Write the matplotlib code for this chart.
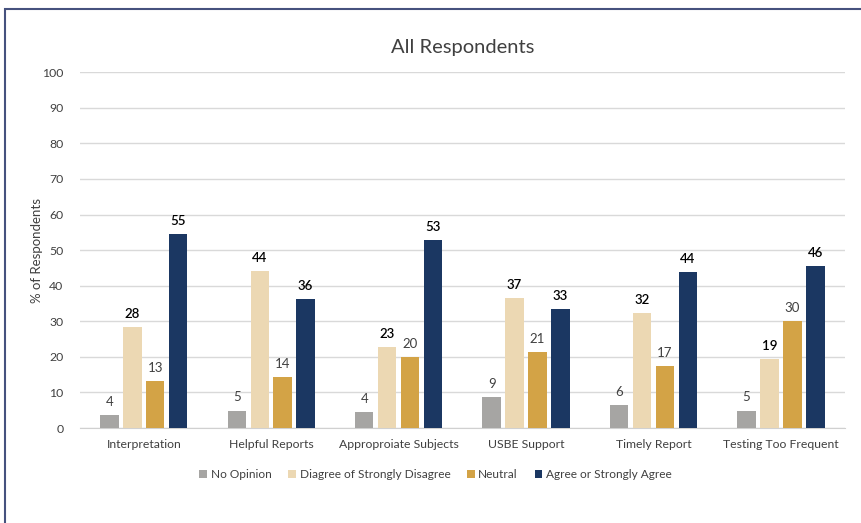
import matplotlib
matplotlib.use("Agg")
import matplotlib.pyplot as plt
import matplotlib.patches as mpatches
import numpy as np

plt.rcParams['font.family'] = ['Lato', 'DejaVu Sans']

categories = ["Interpretation", "Helpful Reports", "Approproiate Subjects",
              "USBE Support", "Timely Report", "Testing Too Frequent"]
series_names = ["No Opinion", "Diagree of Strongly Disagree", "Neutral", "Agree or Strongly Agree"]
no_opinion = [3.6, 4.9, 4.5, 8.7, 6.4, 4.9]
disagree = [28.4, 44.0, 22.8, 36.5, 32.3, 19.4]
neutral = [13.2, 14.4, 20.0, 21.3, 17.4, 30.1]
agree = [54.5, 36.3, 52.8, 33.4, 43.8, 45.6]
labels_no = ["4", "5", "4", "9", "6", "5"]
labels_dis = ["28", "44", "23", "37", "32", "19"]
labels_neu = ["13", "14", "20", "21", "17", "30"]
labels_agr = ["55", "36", "53", "33", "44", "46"]

colors = ["#a6a5a3", "#ecd8b3", "#d3a346", "#1b3762"]
series = [no_opinion, disagree, neutral, agree]
series_labels = [labels_no, labels_dis, labels_neu, labels_agr]
bold = [False, True, False, True]
label_colors = ["#404040", "#000000", "#404040", "#000000"]

fig = plt.figure(figsize=(8.61, 5.23), dpi=100)
ax = fig.add_axes([0.093, 0.1816, 0.888, 0.6804])

x = np.arange(len(categories))
step = 0.18
width = 0.145
for i, (vals, c) in enumerate(zip(series, colors)):
    pos = x + (i - 1.5) * step
    bars = ax.bar(pos, vals, width=width, color=c, label=series_names[i], zorder=3)
    for b, lab in zip(bars, series_labels[i]):
        ax.text(b.get_x() + b.get_width() / 2, b.get_height() + 2.0, lab,
                ha='center', va='bottom', fontsize=9.5,
                fontweight='semibold' if bold[i] else 'normal',
                color=label_colors[i])

ax.set_xlim(-0.5, len(categories) - 0.5)
ax.set_ylim(0, 100)
ax.set_yticks(np.arange(0, 101, 10))
ax.yaxis.grid(True, color="#d9d9d9", linewidth=1, zorder=0)
ax.set_axisbelow(True)
for s in ['top', 'right', 'left']:
    ax.spines[s].set_visible(False)
ax.spines['bottom'].set_color("#d0d0d0")
ax.tick_params(axis='both', length=0, labelsize=8.8, colors="#404040")
ax.tick_params(axis='y', pad=12)
ax.tick_params(axis='x', pad=8)
ax.set_xticks(x)
ax.set_xticklabels(categories)
ax.set_ylabel("% of Respondents", fontsize=9.5, color="#404040", labelpad=-1)
ax.set_title("All Respondents", fontsize=14.5, color="#404040", pad=14)

leg = ax.legend(loc='upper center', bbox_to_anchor=(0.465, -0.085), ncol=4,
                frameon=False, fontsize=8.6, handlelength=0.65, handleheight=0.65,
                columnspacing=1.4, handletextpad=0.3)
for t in leg.get_texts():
    t.set_color("#404040")

# chart border (left and top edges visible)
border = mpatches.Rectangle((5 / 861, -0.1), 1.2, 1 - 9 / 523 + 0.1,
                            transform=fig.transFigure, fill=False,
                            edgecolor="#46527e", linewidth=1.5)
fig.patches.append(border)

fig.savefig("out.png", dpi=100)
